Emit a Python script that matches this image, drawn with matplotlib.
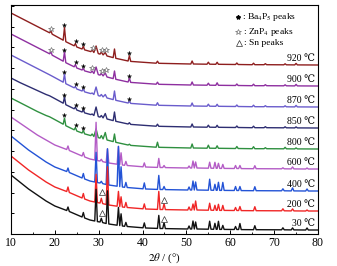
import matplotlib
matplotlib.use("Agg")
import matplotlib.pyplot as plt
from matplotlib.ticker import MultipleLocator

plt.rcParams["font.family"] = ["Liberation Serif", "DejaVu Serif"]
plt.rcParams["mathtext.fontset"] = "stix"

# ---------- data (intensity in arbitrary units, curves already offset) ----------
# 2theta grid shared by the 30-600 C patterns
two_theta_low = [10, 12, 14, 16, 18, 20, 22.7, 23.0, 23.3, 26.2, 26.5, 26.8, 28.0,
                 29.1, 29.4, 29.7, 30.3, 30.6, 30.9, 31.7, 32.0, 32.3, 34.2, 34.5, 34.8,
                 35.1, 35.4, 35.9, 36.2, 36.5, 40.1, 40.4, 40.7, 43.4, 43.7, 44.0, 44.6,
                 44.9, 45.2, 50.3, 50.6, 50.9, 51.2, 51.5, 51.8, 52.1, 52.4, 55.0, 55.3,
                 55.6, 56.2, 56.5, 56.8, 57.0, 57.3, 57.6, 58.0, 58.3, 58.6, 60.9, 61.2,
                 61.5, 61.9, 62.2, 62.5, 65.3, 65.6, 65.9, 71.7, 72.0, 72.3, 73.9, 74.2,
                 74.5, 77.2, 77.5, 77.8, 80]

i_30 = [59, 52, 45, 39, 33, 28, 23.5, 27, 22.5, 17, 21.5, 16, 14,
        13, 44.7, 12.4, 12, 15.7, 11.4, 10.5, 43.2, 10, 8.8, 26.6, 8.4,
        20.2, 8, 7.7, 11.6, 7.5, 6.2, 11.1, 6, 5.6, 18.6, 5.5, 5.5,
        11.5, 5.4, 5, 8, 5, 5, 13, 5, 12, 5, 4.8, 12.8,
        4.8, 4.7, 10.7, 4.7, 4.7, 12.7, 4.6, 4.6, 8.6, 4.6, 4.5, 7.5,
        4.5, 4.5, 10.5, 4.4, 4.3, 8.3, 4.3, 4.2, 6.2, 4.2, 4.1, 6.1,
        4.1, 4, 6, 4, 4]

i_200 = [78, 71, 64, 58, 52, 47, 42.5, 47, 41.5, 36, 40.5, 35, 33,
         32, 59.7, 31.4, 31, 35.7, 30.4, 29.5, 67.2, 29, 27.8, 42.6, 27.4,
         37.2, 27, 26.7, 31.6, 26.5, 25.2, 30.1, 25, 24.6, 42.6, 24.5, 24.5,
         30.5, 24.4, 24, 27, 24, 24, 30, 24, 33, 24, 23.8, 30.8,
         23.8, 23.7, 28.7, 23.7, 23.7, 29.7, 23.6, 23.6, 28.6, 23.6, 23.5, 26.5,
         23.5, 23.5, 27.5, 23.4, 23.3, 27.3, 23.3, 23.2, 25.2, 23.2, 23.1, 25.1,
         23.1, 23, 24, 23, 23]

i_400 = [98, 91, 84, 78, 72, 67, 62.5, 66, 61.5, 56, 60.5, 55, 53,
         52, 81.7, 51.4, 51, 52.7, 50.4, 49.5, 85.2, 49, 47.8, 87.6, 47.4,
         67.2, 47, 46.7, 51.6, 46.5, 45.2, 51.1, 45, 44.6, 58.6, 44.5, 44.5,
         47.5, 44.4, 44, 47, 44, 44, 53, 44, 52, 44, 43.8, 54.8,
         43.8, 43.7, 49.7, 43.7, 43.7, 51.7, 43.6, 43.6, 51.6, 43.6, 43.5, 47.5,
         43.5, 43.5, 47.5, 43.4, 43.3, 47.3, 43.3, 43.2, 45.2, 43.2, 43.1, 46.1,
         43.1, 43, 45, 43, 43]

i_600 = [117, 111, 105, 99, 94, 89, 84.5, 88, 83.5, 78, 81.5, 77, 75,
         74, 111.7, 73.4, 73, 74.7, 72.4, 71.5, 85.2, 71, 69.8, 87.6, 69.4,
         81.2, 69, 68.7, 72.6, 68.5, 67.2, 71.1, 67, 66.6, 75.6, 66.5, 66.5,
         68.5, 66.4, 66, 68, 66, 66, 73, 66, 72, 66, 65.8, 71.8,
         65.8, 65.7, 71.7, 65.7, 65.7, 70.7, 65.6, 65.6, 69.6, 65.6, 65.5, 68.5,
         65.5, 65.5, 68.5, 65.4, 65.3, 68.3, 65.3, 65.2, 66.2, 65.2, 65.1, 67.1,
         65.1, 65, 66, 65, 65]

# 2theta grid shared by the 800-920 C patterns
two_theta_high = [10, 12, 14, 16, 18, 18.8, 19.1, 19.4, 21.0, 21.9, 22.2, 22.5, 24.4,
                  24.7, 25.0, 26.2, 26.5, 26.8, 28.2, 28.5, 28.9, 29.4, 29.9, 30.3, 30.6,
                  31.0, 31.5, 31.9, 33.3, 33.6, 33.9, 36.7, 37.0, 37.3, 43.1, 43.4, 43.7,
                  51.0, 51.3, 51.6, 54.7, 55.0, 55.3, 56.7, 57.0, 57.3, 61.2, 61.5, 61.8,
                  65.0, 65.3, 65.6, 67.7, 68.0, 68.3, 72.2, 72.5, 72.8, 74.7, 75.0, 75.3, 80]

i_800 = [136, 131.5, 127, 122.5, 118.5, 117.2, 116.5, 115.8, 112, 109.8, 116, 108.3, 104.2,
         106.5, 103, 101, 103.5, 100.1, 98.4, 100, 97.5, 105, 96.4, 95.9, 98.5,
         95.1, 101.5, 94, 92.4, 100, 91.7, 89, 89.8, 88.6, 86.8, 91.8, 86.7,
         86, 90, 86, 85.8, 88.8, 85.8, 85.7, 88.2, 85.7, 85.5, 87.5, 85.5,
         85.3, 87.3, 85.3, 85.3, 86.3, 85.3, 85.2, 86.7, 85.2, 85.1, 86.1, 85.1, 85]

i_850 = [156, 151.5, 147.5, 143.5, 139.5, 138.2, 137.5, 136.8, 133, 130.8, 137, 129.3, 125.2,
         127, 124, 122, 124, 121.1, 119.4, 120, 118.5, 127, 117.4, 116.9, 118.5,
         116.1, 120.5, 115, 113.4, 122, 112.7, 110, 111.3, 109.6, 107.8, 109.8, 107.7,
         107, 110, 107, 106.8, 108.8, 106.8, 106.7, 108.7, 106.7, 106.5, 108, 106.5,
         106.3, 107.8, 106.3, 106.3, 107.3, 106.3, 106.2, 107.2, 106.2, 106.1, 107.1, 106.1, 106]

i_870 = [179, 174.5, 170, 165.5, 161, 159.2, 158.5, 157.8, 154, 151.8, 160, 150.3, 146.2,
         147.5, 145, 143, 145, 142.1, 140.4, 141, 139.5, 147, 138.4, 137.9, 139.5,
         137.1, 139.5, 136, 134.4, 143, 133.7, 131, 132.8, 130.6, 128.8, 131.3, 128.7,
         128, 131, 128, 127.8, 129.8, 127.8, 127.7, 129.7, 127.7, 127.5, 129, 127.5,
         127.3, 128.8, 127.3, 127.3, 128.3, 127.3, 127.2, 128.2, 127.2, 127.1, 128.6, 127.1, 127]

i_900 = [200, 195.5, 191, 186.5, 182, 180.2, 182, 178.8, 175, 172.8, 182, 171.3, 167.2,
         169.5, 166, 164, 165.5, 163.1, 161.4, 163, 160.5, 167, 159.4, 158.9, 160.5,
         158.1, 161, 157, 155.4, 163, 154.7, 152, 155.8, 151.6, 149.8, 151.8, 149.7,
         149, 152, 149, 148.8, 150.8, 148.8, 148.7, 151.2, 148.7, 148.5, 150, 148.5,
         148.3, 149.8, 148.3, 148.3, 149.3, 148.3, 148.2, 149.2, 148.2, 148.1, 149.6, 148.1, 148]

i_920 = [221, 216.5, 212, 207.5, 203, 201.2, 203, 199.8, 196, 193.8, 206.5, 192.3, 188.2,
         190.5, 187, 185, 187.5, 184.1, 182.4, 184, 181.5, 188, 180.4, 179.9, 182,
         179.1, 181.5, 178, 176.4, 185, 175.7, 173, 178.3, 172.6, 170.8, 172.8, 170.7,
         170, 173, 170, 169.8, 171.8, 169.8, 169.7, 171.7, 169.7, 169.5, 171, 169.5,
         169.3, 170.8, 169.3, 169.3, 170.3, 169.3, 169.2, 170.2, 169.2, 169.1, 170.6, 169.1, 169]

temps = ["30 ℃", "200 ℃", "400 ℃", "600 ℃", "800 ℃", "850 ℃", "870 ℃", "900 ℃", "920 ℃"]
colors = ["#111111", "#f02626", "#2353d6", "#b45cc6", "#2f9040",
          "#2e2e72", "#6a5ccc", "#8e2fa0", "#8e1e1e"]

# phase markers (2theta, intensity)
ba4p5_x = [22.2, 24.8, 26.4, 22.2, 24.8, 26.4, 22.2, 24.8, 26.4, 37.0,
           22.2, 24.8, 26.4, 37.0, 22.2, 24.8, 26.4, 37.0]
ba4p5_y = [119, 109, 106, 139.5, 129.5, 126.5, 162.5, 150, 147.5, 135,
           184.5, 172, 168, 158, 209, 193, 190, 181]
znp4_x = [19.1, 28.5, 30.7, 31.6, 19.1, 28.6, 30.7, 31.6]
znp4_y = [184.5, 166, 163, 164, 205.5, 186.5, 184.5, 184]
sn_x = [30.7, 44.9, 30.7, 44.8]
sn_y = [21, 15.5, 42, 34.5]

# ---------- plot ----------
fig = plt.figure(figsize=(3.37, 2.66), dpi=100)
ax = fig.add_axes([0.0326, 0.1203, 0.9110, 0.8609])

series = [(two_theta_low, i_30), (two_theta_low, i_200), (two_theta_low, i_400),
          (two_theta_low, i_600), (two_theta_high, i_800), (two_theta_high, i_850),
          (two_theta_high, i_870), (two_theta_high, i_900), (two_theta_high, i_920)]

for k in range(len(series) - 1, -1, -1):
    x, y = series[k]
    ax.plot(x, y, color=colors[k], lw=1.0, zorder=2 + (9 - k) * 0.01)
    ax.text(0.99, y[-1] + 6.5, temps[k], transform=ax.get_yaxis_transform(),
            ha="right", va="center", fontsize=7)

ax.plot(ba4p5_x, ba4p5_y, ls="none", marker="*", ms=3.3, mfc="black", mec="black",
        mew=0.2, zorder=5)
ax.plot(znp4_x, znp4_y, ls="none", marker="*", ms=4.2, mfc="white", mec="#666666",
        mew=0.45, zorder=5)
ax.plot(sn_x, sn_y, ls="none", marker="^", ms=3.8, mfc="white", mec="#333333",
        mew=0.5, zorder=5)

# legend drawn by hand in the top right corner
ax.plot([0.739], [0.948], transform=ax.transAxes, marker="*", ms=3, color="black")
ax.plot([0.741], [0.883], transform=ax.transAxes, marker="*", ms=4.2, mfc="white",
        mec="#666666", mew=0.45)
ax.plot([0.744], [0.833], transform=ax.transAxes, marker="^", ms=4.5, mfc="white",
        mec="#333333", mew=0.5)
ax.text(0.752, 0.948, ": Ba$_4$P$_5$ peaks", transform=ax.transAxes, fontsize=6.8,
        va="center")
ax.text(0.755, 0.883, ": ZnP$_4$ peaks", transform=ax.transAxes, fontsize=6.8,
        va="center")
ax.text(0.758, 0.833, ": Sn peaks", transform=ax.transAxes, fontsize=6.8, va="center")

ax.set_xlim(10, 80)
ax.set_ylim(0, 229)
ax.xaxis.set_major_locator(MultipleLocator(10))
ax.xaxis.set_minor_locator(MultipleLocator(5))
ax.yaxis.set_major_locator(MultipleLocator(20.75))
ax.tick_params(axis="x", which="major", direction="in", length=3, width=0.7,
               labelsize=8.5, pad=2)
ax.tick_params(axis="x", which="minor", direction="in", length=1.8, width=0.6)
ax.tick_params(axis="y", direction="in", length=2.5, width=0.7, labelleft=False)
for s in ax.spines.values():
    s.set_linewidth(0.8)

ax.set_xlabel("$2\\theta$ / (°)", fontsize=8, labelpad=2)

fig.savefig("out.png", dpi=100)
